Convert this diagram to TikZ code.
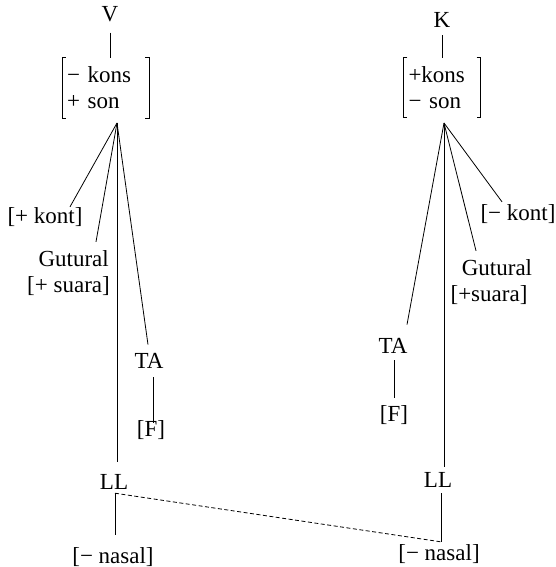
\documentclass[tikz,border=0pt]{standalone}
\usepackage{fontspec}
\setmainfont{Liberation Serif}
\usetikzlibrary{calc}

\begin{document}
\begin{tikzpicture}[x=1pt,y=-1pt,
    font=\fontsize{23}{26}\selectfont,
    feat/.style={inner sep=0pt,anchor=base},
    fmat/.style={inner sep=5pt,align=left,minimum height=60pt},
    tie/.style={line width=0.8pt},
    brak/.style={line width=0.6pt}]
  \useasboundingbox (0,0) rectangle (556,567);

  \node[feat] (V) at (110,22) {V};
  \node[fmat,text width=77pt] (mV) at (105.5,88) {− kons\\+ son};
  \node[feat] (kontL) at (45,223) {[+ kont]};
  \node[feat,anchor=base east] (gutL) at (109,266) {Gutural};
  \node[feat,anchor=base east] (suaL) at (110,292) {[+ suara]};
  \node[feat] (taL) at (149,368) {TA};
  \node[feat] (fL) at (151,436) {[F]};
  \node[feat] (llL) at (114,489) {LL};
  \node[feat] (nasL) at (113,563) {[− nasal]};
  \coordinate (apexV) at (117,123);

  \node[feat] (K) at (442,28) {K};
  \node[fmat,text width=67pt,minimum height=59pt] (mK) at (442,87.5) {+kons\\− son};
  \node[feat] (kontR) at (518,220) {[− kont]};
  \node[feat] (gutR) at (497,275) {Gutural};
  \node[feat] (suaR) at (489,301) {[+suara]};
  \node[feat] (taR) at (393,353) {TA};
  \node[feat] (fR) at (394,421) {[F]};
  \node[feat] (llR) at (438,487) {LL};
  \node[feat] (nasR) at (439,560) {[− nasal]};
  \coordinate (apexK) at (444,123);

  \draw[brak] ([xshift=4pt]mV.north west) -- (mV.north west) -- (mV.south west) -- ([xshift=4pt]mV.south west);
  \draw[brak] ([xshift=-4pt]mV.north east) -- (mV.north east) -- (mV.south east) -- ([xshift=-4pt]mV.south east);
  \draw[brak] ([xshift=4pt]mK.north west) -- (mK.north west) -- (mK.south west) -- ([xshift=4pt]mK.south west);
  \draw[brak] ([xshift=-4pt]mK.north east) -- (mK.north east) -- (mK.south east) -- ([xshift=-4pt]mK.south east);

  \draw[tie] ([yshift=-10pt]V.south) -- (V.south |- mV.north);
  \draw[tie] (apexV) -- ([xshift=25pt]kontL.north);
  \draw[tie] (apexV) -- ([xshift=-13pt,yshift=8pt]gutL.north east);
  \draw[tie] (apexV) -- ($(apexV |- llL.north)+(0,-12)$);
  \draw[tie] (apexV) -- ([xshift=-1pt,yshift=8pt]taL.north);
  \draw[tie] ([xshift=4pt,yshift=-9pt]taL.south) -- ([xshift=2pt,yshift=-3pt]fL.north);
  \draw[tie] ([xshift=1pt,yshift=-4pt]llL.south) -- ([xshift=2pt,yshift=12pt]nasL.north);

  \draw[tie] ([yshift=-7pt]K.south) -- (K.south |- mK.north);
  \draw[tie] (apexK) -- ([xshift=-16pt,yshift=2pt]kontR.north);
  \draw[tie] (apexK) -- ([xshift=-21pt,yshift=8pt]gutR.north);
  \draw[tie] (apexK) -- ([xshift=14pt,yshift=13pt]taR.north);
  \draw[tie] (apexK) -- ($(apexK |- llR.north)+(0,-5)$);
  \draw[tie] ([xshift=1pt,yshift=-7pt]taR.south) -- ([yshift=7pt]fR.north);
  \draw[tie] ([xshift=3pt,yshift=-6pt]llR.south) -- ([xshift=2pt,yshift=2pt]nasR.north);

  \draw[tie,dash pattern=on 4pt off 2.5pt] ([xshift=1pt,yshift=-4pt]llL.south) -- ([xshift=2pt,yshift=2pt]nasR.north);
\end{tikzpicture}
\end{document}
